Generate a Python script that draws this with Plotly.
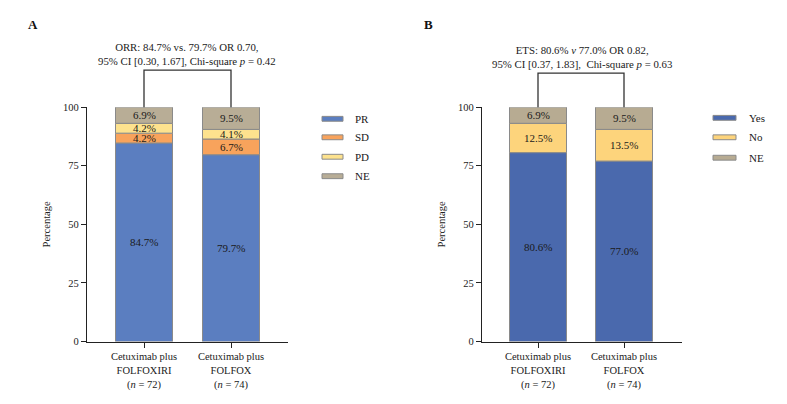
import plotly.graph_objects as go

W, H = 787, 404

groups = ["Cetuximab plus<br>FOLFOXIRI<br>(<i>n</i> = 72)", "Cetuximab plus<br>FOLFOX<br>(<i>n</i> = 74)"]

a_series = ["PR", "SD", "PD", "NE"]
a_PR = [84.7, 79.7]
a_SD = [4.2, 6.7]
a_PD = [4.2, 4.1]
a_NE = [6.9, 9.5]
a_colors = ["#5b7ec0", "#f8a35c", "#fde28e", "#b8ad96"]

b_series = ["Yes", "No", "NE"]
b_Yes = [80.6, 77.0]
b_No = [12.5, 13.5]
b_NE = [6.9, 9.5]
b_colors = ["#4a69ad", "#fdd47c", "#b7ab92"]

y_ticks = [0, 25, 50, 75, 100]

a_title = "ORR: 84.7% vs. 79.7% OR 0.70,<br>95% CI [0.30, 1.67], Chi-square <i>p</i> = 0.42"
b_title = "ETS: 80.6% <i>v</i> 77.0% OR 0.82,<br>95% CI [0.37, 1.83],  Chi-square <i>p</i> = 0.63"

FONT = "Liberation Serif"

def px_x(p):
    return p / W

def px_y(p):
    return 1 - p / H

fig = go.Figure()

panels = [
    dict(xa="x", ya="y", series=a_series, vals=[a_PR, a_SD, a_PD, a_NE], colors=a_colors,
         ax0=87, ax1=288, tick0=144, tick1=231, legx0=322, legx1=343, legtx=353,
         legy=[117, 136, 156, 176], title=a_title, title_y=[40, 60], title_x=187,
         bracket_top=67, label="A", label_x=33),
    dict(xa="x2", ya="y2", series=b_series, vals=[b_Yes, b_No, b_NE], colors=b_colors,
         ax0=482, ax1=682, tick0=538, tick1=624, legx0=713, legx1=736, legtx=747,
         legy=[116, 136, 157], title=b_title, title_y=[43, 63], title_x=582,
         bracket_top=70, label="B", label_x=428),
]

y0_px, y100_px = 346, 105
shapes = []
annotations = []

for i, p in enumerate(panels):
    sp = "" if i == 0 else "2"
    unit = p["tick1"] - p["tick0"]
    xr0 = -(p["tick0"] - p["ax0"]) / unit
    xr1 = xr0 + (p["ax1"] - p["ax0"]) / unit
    bw = 57 / unit
    xs = list(range(len(groups)))
    base = [0.0] * len(groups)
    for name, vals, col in zip(p["series"], p["vals"], p["colors"]):
        fig.add_trace(go.Bar(
            x=xs, y=vals, base=base[:], width=bw, marker=dict(color=col, line=dict(color="#8a8a8a", width=1)),
            name=name, showlegend=False, xaxis=p["xa"], yaxis=p["ya"], hoverinfo="skip",
        ))
        for j, v in enumerate(vals):
            annotations.append(dict(
                x=xs[j], y=base[j] + v / 2, xref=p["xa"], yref=p["ya"],
                xanchor="center", yanchor="middle",
                text=f"{v:.1f}%", showarrow=False,
                font=dict(family=FONT, size=11, color="#1a1a1a"),
            ))
        base = [b + v for b, v in zip(base, vals)]

    dom_x = [px_x(p["ax0"]), px_x(p["ax1"])]
    dom_y = [px_y(y0_px), px_y(y100_px)]
    fig.update_layout(**{
        "xaxis" + sp: dict(domain=dom_x, range=[xr0, xr1], tickmode="array", tickvals=xs, ticktext=groups,
                           showline=True, linecolor="#222", linewidth=1.3, ticks="outside", ticklen=5,
                           tickwidth=1.3, tickcolor="#222", showgrid=False, zeroline=False,
                           tickfont=dict(family=FONT, size=10.5, color="#222"), anchor=p["ya"], fixedrange=True),
        "yaxis" + sp: dict(domain=dom_y, range=[0, 100], tickmode="array", tickvals=y_ticks,
                           showline=True, linecolor="#222", linewidth=1.3, ticks="outside", ticklen=5,
                           tickwidth=1.3, tickcolor="#222", showgrid=False, zeroline=False,
                           tickfont=dict(family=FONT, size=10.5, color="#222"), anchor=p["xa"],
                           title=dict(text="Percentage", font=dict(family=FONT, size=10.5, color="#222"),
                                      standoff=10), fixedrange=True),
    })

    # bracket
    top = px_y(p["bracket_top"])
    ytop100 = px_y(y100_px)
    shapes.append(dict(type="path", xref=p["xa"], yref="paper",
                       path=f"M 0 {ytop100} L 0 {top} L 1 {top} L 1 {ytop100}",
                       line=dict(color="#333", width=1.3)))
    # title
    annotations.append(dict(x=px_x(p["title_x"]), y=px_y((p["title_y"][0] + p["title_y"][1]) / 2),
                            xref="paper", yref="paper", text=p["title"], showarrow=False,
                            xanchor="center", yanchor="middle",
                            font=dict(family=FONT, size=10.8, color="#1a1a1a"), align="center"))
    # panel label
    annotations.append(dict(x=px_x(p["label_x"]), y=px_y(20), xref="paper", yref="paper",
                            xanchor="center", yanchor="middle",
                            text=f"<b>{p['label']}</b>", showarrow=False,
                            font=dict(family=FONT, size=13, color="#111")))
    # legend
    for name, col, ly in zip(p["series"], p["colors"], p["legy"]):
        shapes.append(dict(type="rect", xref="paper", yref="paper",
                           x0=px_x(p["legx0"]), x1=px_x(p["legx1"]), y0=px_y(ly + 2.5), y1=px_y(ly - 2.5),
                           fillcolor=col, line=dict(color="#8a8a8a", width=1)))
        annotations.append(dict(x=px_x(p["legtx"]), y=px_y(ly), xref="paper", yref="paper",
                                text=name, showarrow=False, xanchor="left", yanchor="middle",
                                font=dict(family=FONT, size=11, color="#1a1a1a")))

fig.update_layout(width=W, height=H, margin=dict(l=0, r=0, t=0, b=0),
                  paper_bgcolor="white", plot_bgcolor="white", barmode="overlay",
                  shapes=shapes, annotations=annotations, showlegend=False)

fig.write_html("out.html", config={"displayModeBar": False},
               post_script="document.body.style.margin='0';document.body.style.overflow='hidden';")
